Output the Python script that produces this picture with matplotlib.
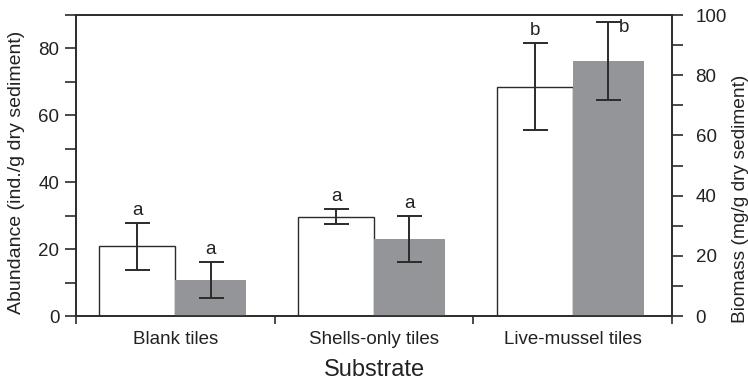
"""Abundance and biomass by substrate type, bar chart with two y axes."""
import matplotlib
matplotlib.use('Agg')
import matplotlib.pyplot as plt
from matplotlib.ticker import MultipleLocator

# Data
substrates = ['Blank tiles', 'Shells-only tiles', 'Live-mussel tiles']
abundance_mean = [20.8, 29.7, 68.6]
abundance_err = [7.0, 2.2, 13.0]
abundance_letters = ['a', 'a', 'b']
biomass_mean = [12.0, 25.5, 84.7]
biomass_err = [5.9, 7.6, 12.9]
biomass_letters = ['a', 'a', 'b']

plt.rcParams['font.family'] = ['Liberation Sans', 'DejaVu Sans']
edge = '#2b2b2b'
grey = '#949598'

fig = plt.figure(figsize=(7.48, 3.85), dpi=100)
ax = fig.add_axes([0.1016, 0.1792, 0.7968, 0.7818])
ax2 = ax.twinx()

x = list(range(len(substrates)))
w_open = 0.382
w_fill = 0.357
x_open = [xi - w_open / 2 for xi in x]
x_fill = [xi + w_fill / 2 for xi in x]

ax.bar(x_open, abundance_mean, width=w_open, color='white',
       edgecolor=edge, linewidth=1.0, zorder=2)
ax.errorbar(x_open, abundance_mean, yerr=abundance_err, fmt='none',
            ecolor=edge, elinewidth=1.4, capsize=9, capthick=1.4, zorder=3)

ax2.bar(x_fill, biomass_mean, width=w_fill, color=grey, linewidth=0, zorder=2)
ax2.errorbar(x_fill, biomass_mean, yerr=biomass_err, fmt='none',
             ecolor=edge, elinewidth=1.4, capsize=9, capthick=1.4, zorder=3)

# significance letters
for xi, m, e, lab in zip(x_open, abundance_mean, abundance_err, abundance_letters):
    ax.annotate(lab, (xi, m + e), xytext=(0, 3), textcoords='offset points',
                ha='center', va='bottom', fontsize=13.5, color='#222222')
for xi, m, e, lab in zip(x_fill, biomass_mean, biomass_err, biomass_letters):
    if m + e > 92:
        # no room above, put it beside the cap
        ax2.annotate(lab, (xi, m + e), xytext=(8, -4), textcoords='offset points',
                     ha='left', va='center', fontsize=13.5, color='#222222')
    else:
        ax2.annotate(lab, (xi, m + e), xytext=(0, 3), textcoords='offset points',
                     ha='center', va='bottom', fontsize=13.5, color='#222222')

ax.set_xlim(-0.5, len(substrates) - 0.5)
ax.set_ylim(0, 90)
ax2.set_ylim(0, 100)

ax.yaxis.set_major_locator(MultipleLocator(20))
ax.yaxis.set_minor_locator(MultipleLocator(10))
ax2.yaxis.set_major_locator(MultipleLocator(20))
ax2.yaxis.set_minor_locator(MultipleLocator(10))

# category labels centred, tick marks at the group boundaries
ax.set_xticks([xi + 0.5 for xi in [-1] + x])
ax.set_xticklabels([])
ax.set_xticks(x, minor=True)
ax.set_xticklabels(substrates, minor=True, fontsize=13.5, color='#222222')
ax.tick_params(axis='x', which='minor', length=0, pad=11)
ax.tick_params(axis='x', which='major', direction='out', length=6,
               width=1.2, color=edge)

ax.tick_params(axis='y', which='both', direction='out', length=8, width=1.2,
               color=edge, labelsize=13.5, labelcolor='#222222', pad=4)
ax2.tick_params(axis='y', which='both', direction='out', length=8, width=1.2,
                color=edge, labelsize=13.5, labelcolor='#222222', pad=9)

for a in (ax, ax2):
    for s in a.spines.values():
        s.set_linewidth(1.2)
        s.set_color(edge)

ax.set_ylabel('Abundance (ind./g dry sediment)', fontsize=14, color='#222222')
ax.yaxis.set_label_coords(-0.086, 0.478)
ax2.set_ylabel('Biomass (mg/g dry sediment)', fontsize=13.8, color='#222222')
ax2.yaxis.set_label_coords(1.1, 0.39)
ax.set_xlabel('Substrate', fontsize=17, color='#222222', labelpad=8)

fig.savefig('out.png', dpi=100)
